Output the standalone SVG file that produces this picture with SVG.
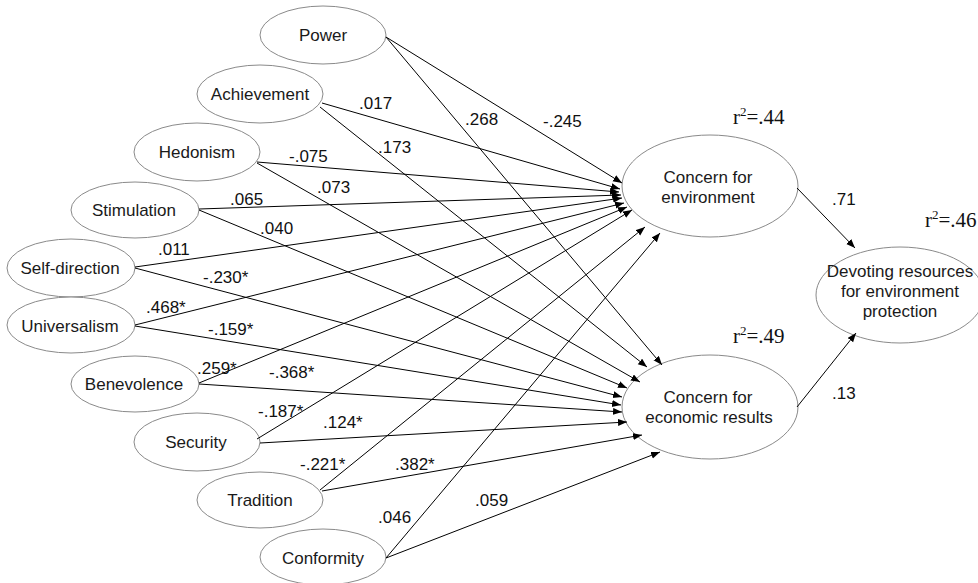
<svg xmlns="http://www.w3.org/2000/svg" width="978" height="583" viewBox="0 0 978 583">
  <defs>
    <marker id="arrow" markerUnits="userSpaceOnUse" markerWidth="10" markerHeight="8" refX="9" refY="3.5" orient="auto">
      <path d="M0,0 L9,3.5 L0,7 z" fill="#000"/>
    </marker>
  </defs>
  <style>
    .node ellipse { fill: #fff; stroke: #8a8a8a; stroke-width: 1; }
    .node text { font-family: "Liberation Sans", Arial, sans-serif; font-size: 17px; fill: #1a1a1a; text-anchor: middle; }
    .edges line { stroke: #000; stroke-width: 1; marker-end: url(#arrow); }
    .coef { font-family: "Liberation Sans", Arial, sans-serif; font-size: 17px; fill: #111; }
    .r2 { font-family: "Liberation Serif", "Times New Roman", serif; font-size: 21px; fill: #111; }
    .r2 tspan.sup { font-size: 13px; }
  </style>
  <rect width="978" height="583" fill="#fff"/>

  <!-- value nodes -->
  <g id="power" class="node"><ellipse cx="323" cy="35" rx="63" ry="29"/><text x="323" y="41">Power</text></g>
  <g id="achievement" class="node"><ellipse cx="260" cy="94" rx="63" ry="29"/><text x="260" y="100">Achievement</text></g>
  <g id="hedonism" class="node"><ellipse cx="197" cy="152" rx="63" ry="29"/><text x="197" y="158">Hedonism</text></g>
  <g id="stimulation" class="node"><ellipse cx="135" cy="210" rx="64" ry="28"/><text x="134" y="216">Stimulation</text></g>
  <g id="self-direction" class="node"><ellipse cx="71" cy="268" rx="64" ry="29"/><text x="70" y="274">Self-direction</text></g>
  <g id="universalism" class="node"><ellipse cx="71" cy="325" rx="64" ry="28"/><text x="70" y="332">Universalism</text></g>
  <g id="benevolence" class="node"><ellipse cx="135" cy="384" rx="64" ry="28"/><text x="134" y="390">Benevolence</text></g>
  <g id="security" class="node"><ellipse cx="197" cy="442" rx="63" ry="29"/><text x="196" y="448">Security</text></g>
  <g id="tradition" class="node"><ellipse cx="260" cy="500" rx="63" ry="28"/><text x="260" y="506">Tradition</text></g>
  <g id="conformity" class="node"><ellipse cx="323" cy="557" rx="63" ry="28"/><text x="323" y="564">Conformity</text></g>

  <!-- outcome nodes -->
  <g id="concern-environment" class="node"><ellipse cx="710" cy="186" rx="88" ry="51"/><text x="708" y="183">Concern for</text><text x="708" y="203">environment</text></g>
  <g id="concern-economic" class="node"><ellipse cx="710" cy="407" rx="88" ry="52"/><text x="708" y="403">Concern for</text><text x="709" y="423">economic results</text></g>
  <g id="devoting-resources" class="node"><ellipse cx="900" cy="295" rx="84" ry="48"/><text x="900" y="277">Devoting resources</text><text x="900" y="297">for environment</text><text x="900" y="317">protection</text></g>

  <!-- paths -->
  <g id="connectors" class="edges">
    <line x1="386" y1="37" x2="622" y2="183"/>
    <line x1="386" y1="37" x2="662" y2="365"/>
    <line x1="322" y1="103" x2="620" y2="189"/>
    <line x1="320" y1="107" x2="647" y2="367"/>
    <line x1="257" y1="162" x2="619" y2="192"/>
    <line x1="257" y1="163" x2="640" y2="382"/>
    <line x1="199" y1="209" x2="621" y2="195"/>
    <line x1="199" y1="210" x2="627" y2="388"/>
    <line x1="135" y1="267" x2="622" y2="198"/>
    <line x1="135" y1="268" x2="622" y2="397"/>
    <line x1="135" y1="325" x2="624" y2="203"/>
    <line x1="135" y1="326" x2="621" y2="405"/>
    <line x1="199" y1="383" x2="627" y2="207"/>
    <line x1="199" y1="384" x2="622" y2="412"/>
    <line x1="257" y1="439" x2="632" y2="210"/>
    <line x1="260" y1="443" x2="627" y2="422"/>
    <line x1="320" y1="490" x2="645" y2="227"/>
    <line x1="322" y1="491" x2="642" y2="435"/>
    <line x1="386" y1="558" x2="660" y2="233"/>
    <line x1="386" y1="558" x2="660" y2="452"/>
    <line x1="797" y1="188" x2="855" y2="248"/>
    <line x1="797" y1="407" x2="856" y2="333"/>
  </g>

  <!-- path coefficients -->
  <g id="coefficients" class="coef">
    <text x="359" y="109">.017</text>
    <text x="465" y="125">.268</text>
    <text x="543" y="127">-.245</text>
    <text x="378" y="153">.173</text>
    <text x="289" y="162">-.075</text>
    <text x="317" y="193">.073</text>
    <text x="230" y="205">.065</text>
    <text x="260" y="234">.040</text>
    <text x="158" y="255">.011</text>
    <text x="203" y="283">-.230*</text>
    <text x="146" y="313">.468*</text>
    <text x="208" y="335">-.159*</text>
    <text x="197" y="374">.259*</text>
    <text x="269" y="378">-.368*</text>
    <text x="258" y="417">-.187*</text>
    <text x="323" y="428">.124*</text>
    <text x="300" y="470">-.221*</text>
    <text x="395" y="470">.382*</text>
    <text x="378" y="523">.046</text>
    <text x="475" y="506">.059</text>
    <text x="832" y="205">.71</text>
    <text x="832" y="399">.13</text>
  </g>

  <!-- explained variance -->
  <g id="r-squared" class="r2">
    <text x="733" y="124">r<tspan class="sup" dy="-8">2</tspan><tspan dy="8">=.44</tspan></text>
    <text x="733" y="343">r<tspan class="sup" dy="-8">2</tspan><tspan dy="8">=.49</tspan></text>
    <text x="925" y="227">r<tspan class="sup" dy="-8">2</tspan><tspan dy="8">=.46</tspan></text>
  </g>
</svg>
